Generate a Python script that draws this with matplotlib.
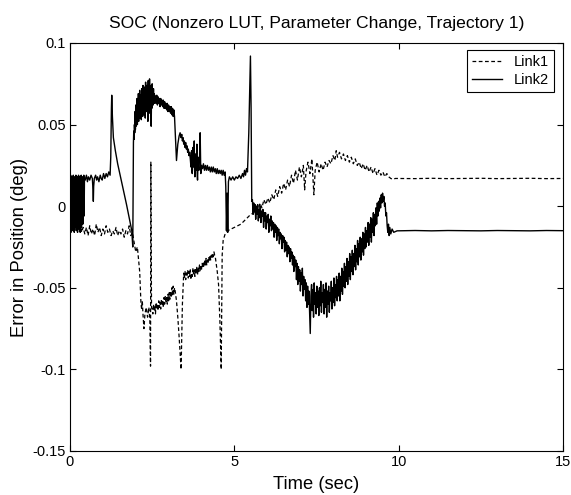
import matplotlib
matplotlib.use("Agg")
from matplotlib import pyplot as plt
from matplotlib.ticker import FormatStrFormatter

plt.rcParams["font.family"] = ["Liberation Sans", "DejaVu Sans"]
plt.rcParams["axes.unicode_minus"] = False

# ---- Link2 (solid) ----
# start-up chatter
link2_t_start = [
    0.00, 0.01, 0.02, 0.03, 0.04, 0.05, 0.06, 0.07, 0.08, 0.09,
    0.10, 0.11, 0.12, 0.13, 0.14, 0.15, 0.16, 0.17, 0.18, 0.19,
    0.20, 0.21, 0.22, 0.23, 0.24, 0.25, 0.26, 0.27, 0.28, 0.29,
    0.30, 0.31, 0.32, 0.33, 0.34, 0.35, 0.36, 0.37, 0.38, 0.39,
    0.40, 0.41, 0.42, 0.43, 0.44,
]
link2_e_start = [
    0.017, -0.012, 0.019, -0.016, 0.010, -0.014, 0.018, -0.008, 0.016, -0.015,
    0.019, -0.011, 0.014, -0.016, 0.018, -0.006, 0.017, -0.013, 0.019, -0.015,
    0.012, -0.010, 0.018, -0.016, 0.016, -0.004, 0.019, -0.014, 0.015, -0.012,
    0.018, -0.016, 0.017, -0.009, 0.019, -0.013, 0.016, -0.002, 0.018, -0.011,
    0.017, 0.004, 0.019, -0.006, 0.017,
]
# first hold and first spike
link2_t_hold = [
    0.46, 0.50, 0.53, 0.56, 0.60, 0.64, 0.68, 0.70, 0.71, 0.72, 0.74, 0.78,
    0.81, 0.84, 0.88, 0.92, 0.95, 0.98, 1.02, 1.06, 1.10, 1.14, 1.18, 1.22,
    1.24, 1.26, 1.27, 1.29, 1.32, 1.38, 1.45, 1.57, 1.72, 1.88, 1.91,
]
link2_e_hold = [
    0.016, 0.019, 0.015, 0.018, 0.016, 0.019, 0.017, 0.010, 0.003, 0.012, 0.017, 0.019,
    0.016, 0.018, 0.015, 0.019, 0.017, 0.016, 0.020, 0.017, 0.020, 0.018, 0.021, 0.019,
    0.030, 0.060, 0.068, 0.055, 0.042, 0.034, 0.026, 0.015, 0.001, -0.015, -0.025,
]
# noisy hump
link2_t_hump = [
    1.93, 1.94, 1.95, 1.96, 1.97, 1.98, 1.99, 2.00, 2.01, 2.02,
    2.03, 2.04, 2.05, 2.06, 2.07, 2.08, 2.09, 2.10, 2.11, 2.12,
    2.13, 2.14, 2.15, 2.16, 2.17, 2.18, 2.19, 2.20, 2.21, 2.22,
    2.23, 2.24, 2.25, 2.26, 2.27, 2.28, 2.29, 2.30, 2.31, 2.32,
    2.33, 2.34, 2.35, 2.36, 2.37, 2.38, 2.39, 2.40, 2.41, 2.42,
    2.43, 2.44, 2.45, 2.46, 2.47, 2.48, 2.49, 2.50, 2.51, 2.52,
    2.53, 2.54, 2.55, 2.56, 2.57, 2.58, 2.59, 2.60,
    2.62, 2.64, 2.66, 2.68, 2.70, 2.72, 2.74, 2.76, 2.78, 2.80,
    2.82, 2.84, 2.86, 2.88, 2.90, 2.92, 2.94, 2.96, 2.98, 3.00,
    3.02, 3.04, 3.06, 3.08, 3.10, 3.12, 3.14, 3.16, 3.18,
]
link2_e_hump = [
    0.039, 0.046, 0.041, 0.050, 0.045, 0.058, 0.047, 0.062, 0.049, 0.060,
    0.052, 0.066, 0.050, 0.063, 0.055, 0.069, 0.052, 0.065, 0.057, 0.071,
    0.054, 0.068, 0.058, 0.064, 0.053, 0.072, 0.060, 0.067, 0.055, 0.074,
    0.059, 0.070, 0.056, 0.073, 0.061, 0.068, 0.054, 0.076, 0.060, 0.071,
    0.058, 0.074, 0.062, 0.069, 0.052, 0.077, 0.061, 0.072, 0.057, 0.078,
    0.063, 0.070, 0.058, 0.074, 0.049, 0.066, 0.060, 0.075, 0.063, 0.070,
    0.062, 0.072, 0.064, 0.069, 0.063, 0.068, 0.064, 0.067,
    0.063, 0.068, 0.062, 0.067, 0.063, 0.066, 0.061, 0.066, 0.062, 0.065,
    0.061, 0.065, 0.060, 0.064, 0.060, 0.063, 0.059, 0.063, 0.058, 0.062,
    0.058, 0.061, 0.057, 0.061, 0.056, 0.060, 0.055, 0.059, 0.055,
]
# step down, chatter and second hold
link2_t_mid = [
    3.21, 3.24, 3.28, 3.32, 3.35, 3.38, 3.40, 3.42, 3.44, 3.46,
    3.48, 3.50, 3.52, 3.54, 3.56, 3.58, 3.60, 3.62, 3.64, 3.66,
    3.68, 3.69, 3.70, 3.71, 3.72, 3.73, 3.74, 3.75, 3.76, 3.77,
    3.78, 3.79, 3.80, 3.81, 3.82, 3.83, 3.84, 3.85, 3.86, 3.87,
    3.88, 3.89, 3.90, 3.91, 3.92, 3.93, 3.94, 3.95, 3.96, 3.97,
    3.98, 3.99, 4.00,
    4.03, 4.06, 4.09, 4.12, 4.15, 4.18, 4.21, 4.24, 4.27, 4.30,
    4.33, 4.36, 4.39, 4.42, 4.45, 4.48, 4.51, 4.54, 4.57, 4.60,
    4.63, 4.66, 4.69, 4.72,
    4.74, 4.76, 4.78, 4.80, 4.82, 4.85, 4.90, 4.95, 5.00, 5.05,
    5.10, 5.15, 5.20, 5.25, 5.28, 5.31, 5.34, 5.37, 5.40,
    5.44, 5.47, 5.49, 5.51, 5.53,
]
link2_e_mid = [
    0.042, 0.028, 0.038, 0.043, 0.045, 0.042, 0.044, 0.040, 0.042, 0.038,
    0.040, 0.036, 0.039, 0.035, 0.037, 0.033, 0.035, 0.031, 0.033, 0.029,
    0.024, 0.031, 0.034, 0.022, 0.020, 0.030, 0.036, 0.026, 0.024, 0.033,
    0.040, 0.022, 0.018, 0.027, 0.032, 0.025, 0.022, 0.030, 0.038, 0.020,
    0.016, 0.024, 0.030, 0.025, 0.022, 0.027, 0.028, 0.036, 0.045, 0.030,
    0.020, 0.024, 0.025,
    0.023, 0.026, 0.022, 0.025, 0.022, 0.025, 0.022, 0.024, 0.021, 0.024,
    0.021, 0.024, 0.021, 0.023, 0.020, 0.023, 0.020, 0.022, 0.020, 0.022,
    0.019, 0.022, 0.019, 0.021,
    0.012, -0.015, 0.008, -0.016, 0.015, 0.018, 0.016, 0.018, 0.016, 0.018,
    0.017, 0.019, 0.017, 0.020, 0.018, 0.022, 0.019, 0.023, 0.021,
    0.045, 0.072, 0.092, 0.060, 0.003,
]
# noisy sag after the spike
link2_t_sag = [
    5.55, 5.57, 5.59, 5.61, 5.63, 5.65, 5.67, 5.69, 5.71, 5.73,
    5.75, 5.77, 5.79, 5.81, 5.83, 5.85, 5.87, 5.89, 5.91, 5.93,
    5.95, 5.97, 5.99, 6.01, 6.03, 6.05, 6.07, 6.09, 6.11, 6.13,
    6.15, 6.17, 6.19, 6.21, 6.23, 6.25, 6.27, 6.29, 6.31, 6.33,
    6.35, 6.37, 6.39, 6.41, 6.43, 6.45, 6.47, 6.49, 6.51, 6.53,
    6.55, 6.57, 6.59, 6.61, 6.63, 6.65, 6.67, 6.69, 6.71, 6.73,
    6.75, 6.77, 6.79, 6.81, 6.83, 6.85, 6.87, 6.89, 6.91, 6.93,
    6.95, 6.97, 6.99, 7.01, 7.03, 7.05, 7.07, 7.09, 7.11, 7.13,
    7.15, 7.17, 7.19, 7.21, 7.23, 7.25, 7.27, 7.29, 7.31, 7.33,
    7.35, 7.37, 7.39, 7.41, 7.43, 7.45, 7.47, 7.49, 7.51, 7.53,
    7.55, 7.57, 7.59, 7.61, 7.63, 7.65, 7.67, 7.69, 7.71, 7.73,
    7.75, 7.77, 7.79, 7.81, 7.83, 7.85, 7.87, 7.89, 7.91, 7.93,
    7.95, 7.97, 7.99, 8.01, 8.03, 8.05, 8.07, 8.09, 8.11, 8.13,
    8.15, 8.17, 8.19, 8.21, 8.23, 8.25, 8.27, 8.29, 8.31, 8.33,
    8.35, 8.37, 8.39, 8.41, 8.43, 8.45, 8.47, 8.49, 8.51, 8.53,
    8.55, 8.57, 8.59, 8.61, 8.63, 8.65, 8.67, 8.69, 8.71, 8.73,
    8.75, 8.77, 8.79, 8.81, 8.83, 8.85, 8.87, 8.89, 8.91, 8.93,
    8.95, 8.97, 8.99, 9.01, 9.03, 9.05, 9.07, 9.09, 9.11, 9.13,
    9.15, 9.17, 9.19, 9.21, 9.23, 9.25, 9.27, 9.29, 9.31, 9.33,
    9.35, 9.37, 9.39, 9.41, 9.43, 9.45, 9.47, 9.49, 9.51, 9.53,
    9.55, 9.57, 9.59, 9.61, 9.63, 9.65, 9.67, 9.69,
]
link2_e_sag = [
    0.004, -0.005, 0.002, -0.003, 0.001, -0.008, 0.000, -0.005, 0.001, -0.009,
    -0.002, -0.007, 0.000, -0.010, -0.003, -0.006, -0.002, -0.013, -0.004, -0.009,
    -0.004, -0.014, -0.006, -0.010, -0.005, -0.016, -0.008, -0.012, -0.006, -0.015,
    -0.009, -0.014, -0.010, -0.019, -0.011, -0.016, -0.012, -0.021, -0.013, -0.018,
    -0.014, -0.023, -0.016, -0.020, -0.017, -0.026, -0.018, -0.022, -0.019, -0.028,
    -0.021, -0.027, -0.022, -0.031, -0.024, -0.029, -0.025, -0.034, -0.026, -0.032,
    -0.028, -0.036, -0.030, -0.040, -0.031, -0.037, -0.033, -0.045, -0.035, -0.048,
    -0.037, -0.046, -0.039, -0.052, -0.041, -0.048, -0.038, -0.055, -0.043, -0.051,
    -0.045, -0.058, -0.047, -0.062, -0.049, -0.060, -0.052, -0.066, -0.078, -0.055,
    -0.048, -0.064, -0.051, -0.068, -0.047, -0.060, -0.053, -0.066, -0.049, -0.062,
    -0.052, -0.067, -0.050, -0.061, -0.046, -0.065, -0.053, -0.059, -0.048, -0.066,
    -0.051, -0.062, -0.047, -0.068, -0.052, -0.060, -0.049, -0.065, -0.053, -0.058,
    -0.046, -0.063, -0.050, -0.059, -0.044, -0.061, -0.048, -0.056, -0.043, -0.058,
    -0.045, -0.055, -0.041, -0.058, -0.043, -0.052, -0.038, -0.054, -0.040, -0.049,
    -0.035, -0.050, -0.037, -0.046, -0.032, -0.048, -0.034, -0.043, -0.029, -0.045,
    -0.031, -0.040, -0.027, -0.042, -0.029, -0.037, -0.024, -0.039, -0.026, -0.034,
    -0.021, -0.036, -0.023, -0.031, -0.019, -0.033, -0.020, -0.028, -0.016, -0.030,
    -0.017, -0.026, -0.013, -0.025, -0.015, -0.022, -0.010, -0.024, -0.011, -0.019,
    -0.007, -0.022, -0.008, -0.016, -0.004, -0.018, -0.005, -0.012, -0.001, -0.011,
    0.002, -0.006, 0.003, -0.003, 0.005, -0.001, 0.007, 0.002, 0.008, 0.003,
    0.006, 0.000, 0.002, -0.006, -0.004, -0.012, -0.016, -0.011,
]
# settled tail
link2_t_tail = [
    9.71, 9.73, 9.76, 9.80, 9.85, 9.95, 10.5, 11.0, 11.5, 12.0, 12.5, 13.0,
    13.5, 14.0, 14.5, 15.0,
]
link2_e_tail = [
    -0.018, -0.013, -0.017, -0.014, -0.016, -0.0151, -0.0149, -0.0151, -0.0149, -0.0150,
    -0.0151, -0.0149, -0.0150, -0.0151, -0.0149, -0.0150,
]

# ---- Link1 (dashed) ----
link1_t_start = [
    0.00, 0.05, 0.10, 0.15, 0.20, 0.25, 0.30, 0.35, 0.40,
    0.45, 0.50, 0.55, 0.60, 0.65, 0.70, 0.75, 0.80, 0.85, 0.90, 0.95, 1.00,
    1.05, 1.10, 1.15, 1.20, 1.25, 1.30, 1.35, 1.40, 1.45, 1.50, 1.55, 1.60,
    1.65, 1.70, 1.75, 1.80, 1.85, 1.90, 1.95, 2.00,
    2.05, 2.12, 2.16, 2.18, 2.20, 2.22, 2.25, 2.28, 2.32, 2.36, 2.40, 2.43,
    2.45, 2.46, 2.48,
]
link1_e_start = [
    0.000, -0.010, 0.006, -0.012, 0.003, -0.014, -0.004, -0.016, -0.013,
    -0.017, -0.013, -0.018, -0.012, -0.017, -0.014, -0.018, -0.011, -0.016, -0.013, -0.018, -0.014,
    -0.017, -0.012, -0.016, -0.014, -0.018, -0.015, -0.017, -0.013, -0.018, -0.015, -0.017, -0.014,
    -0.019, -0.015, -0.017, -0.012, -0.018, -0.016, -0.022, -0.028,
    -0.025, -0.040, -0.060, -0.063, -0.058, -0.066, -0.075, -0.066, -0.062, -0.068, -0.062, -0.070,
    -0.098, 0.027, -0.062,
]
link1_t_low = [
    2.50, 2.52, 2.54, 2.56, 2.58, 2.60, 2.62, 2.64, 2.66, 2.68,
    2.70, 2.72, 2.74, 2.76, 2.78, 2.80, 2.82, 2.84, 2.86, 2.88,
    2.90, 2.92, 2.94, 2.96, 2.98, 3.00, 3.02, 3.04, 3.06, 3.08,
    3.10, 3.12, 3.14, 3.16, 3.18, 3.20,
    3.24, 3.28, 3.32, 3.38, 3.42,
    3.46, 3.48, 3.50, 3.52, 3.54, 3.56, 3.58, 3.60, 3.62, 3.64,
    3.66, 3.68, 3.70, 3.72, 3.74, 3.76, 3.78, 3.80, 3.82, 3.84,
    3.86, 3.88, 3.90, 3.92, 3.94, 3.96, 3.98, 4.00, 4.02, 4.04,
    4.06, 4.08, 4.10, 4.12, 4.14, 4.16, 4.18, 4.20, 4.22, 4.24,
    4.26, 4.28, 4.30, 4.32, 4.34, 4.36, 4.38, 4.40, 4.42, 4.44,
    4.48, 4.52, 4.56, 4.60, 4.63, 4.66, 4.72, 4.80,
    4.90, 5.00, 5.10, 5.20, 5.30, 5.40, 5.50,
]
link1_e_low = [
    -0.063, -0.066, -0.060, -0.064, -0.061, -0.066, -0.059, -0.063, -0.060, -0.064,
    -0.058, -0.062, -0.059, -0.063, -0.057, -0.061, -0.058, -0.062, -0.056, -0.060,
    -0.055, -0.059, -0.056, -0.060, -0.054, -0.058, -0.053, -0.057, -0.052, -0.056,
    -0.050, -0.055, -0.049, -0.054, -0.050, -0.052,
    -0.058, -0.068, -0.080, -0.100, -0.060,
    -0.041, -0.044, -0.040, -0.045, -0.041, -0.043, -0.039, -0.044, -0.040, -0.043,
    -0.039, -0.045, -0.041, -0.043, -0.038, -0.042, -0.039, -0.043, -0.038, -0.041,
    -0.037, -0.042, -0.038, -0.040, -0.036, -0.040, -0.037, -0.039, -0.035, -0.038,
    -0.034, -0.037, -0.033, -0.036, -0.032, -0.036, -0.033, -0.035, -0.031, -0.034,
    -0.030, -0.033, -0.030, -0.032, -0.029, -0.031, -0.028, -0.030, -0.031, -0.034,
    -0.040, -0.048, -0.070, -0.100, -0.030, -0.021, -0.017, -0.015,
    -0.014, -0.013, -0.012, -0.011, -0.009, -0.007, -0.005,
]
link1_t_rise = [
    5.60, 5.66, 5.72, 5.78, 5.84, 5.90, 5.96, 6.02, 6.08, 6.14, 6.20, 6.26,
    6.32, 6.38, 6.44, 6.50, 6.56, 6.62, 6.68, 6.74, 6.80, 6.86, 6.92, 6.98,
    7.04, 7.10, 7.14, 7.18, 7.24, 7.30, 7.36, 7.42, 7.46, 7.52, 7.58, 7.64,
    7.70, 7.76, 7.82, 7.88, 7.94, 8.00, 8.06, 8.10, 8.14, 8.20, 8.26, 8.32,
    8.38, 8.44, 8.50, 8.56, 8.62, 8.68, 8.74, 8.80, 8.86, 8.92, 8.98, 9.04,
    9.10, 9.16, 9.22, 9.28, 9.34, 9.40, 9.46, 9.52, 9.58, 9.64, 9.70, 9.76,
    9.82, 9.90,
    10.5, 11.0, 11.5, 12.0, 12.5, 13.0, 13.5, 14.0, 14.5, 15.0,
]
link1_e_rise = [
    -0.004, 0.000, -0.003, 0.002, -0.001, 0.004, 0.001, 0.005, 0.002, 0.007, 0.004, 0.010,
    0.006, 0.012, 0.008, 0.014, 0.010, 0.016, 0.012, 0.019, 0.014, 0.022, 0.016, 0.024,
    0.018, 0.025, 0.010, 0.021, 0.027, 0.020, 0.029, 0.007, 0.022, 0.027, 0.021, 0.026,
    0.022, 0.027, 0.024, 0.028, 0.026, 0.031, 0.028, 0.034, 0.030, 0.033, 0.029, 0.032,
    0.028, 0.031, 0.027, 0.030, 0.026, 0.029, 0.025, 0.027, 0.023, 0.026, 0.022, 0.025,
    0.021, 0.024, 0.020, 0.023, 0.019, 0.022, 0.019, 0.021, 0.018, 0.020, 0.018, 0.017,
    0.0165, 0.0170,
    0.0169, 0.0171, 0.0169, 0.0170, 0.0171, 0.0169, 0.0170, 0.0171, 0.0169, 0.0170,
]

x_ticks = [0, 5, 10, 15]
y_ticks = [-0.15, -0.1, -0.05, 0, 0.05, 0.1]

link1_t = link1_t_start + link1_t_low + link1_t_rise
link1_err = link1_e_start + link1_e_low + link1_e_rise
link2_t = link2_t_start + link2_t_hold + link2_t_hump + link2_t_mid + link2_t_sag + link2_t_tail
link2_err = link2_e_start + link2_e_hold + link2_e_hump + link2_e_mid + link2_e_sag + link2_e_tail

fig = plt.figure(figsize=(5.71, 4.95), dpi=100)
ax = fig.add_axes([70 / 571, 44 / 495, 493 / 571, 408 / 495])

ax.plot(link1_t, link1_err, color="black", linestyle=(0, (3, 2)), linewidth=0.9, label="Link1")
ax.plot(link2_t, link2_err, color="black", linestyle="-", linewidth=1.0, label="Link2")

ax.set_xlim(0, 15)
ax.set_ylim(-0.15, 0.1)
ax.set_xticks(x_ticks)
ax.set_yticks(y_ticks)
ax.yaxis.set_major_formatter(FormatStrFormatter("%g"))
ax.tick_params(direction="in", length=4, width=0.8, top=True, right=True,
               labelsize=10.5, pad=3)
for spine in ax.spines.values():
    spine.set_linewidth(0.8)

ax.set_title("SOC (Nonzero LUT, Parameter Change, Trajectory 1)", fontsize=12.6, pad=11)
ax.set_xlabel("Time (sec)", fontsize=13.2, labelpad=5)
ax.set_ylabel("Error in Position (deg)", fontsize=13.2, labelpad=3)

leg = ax.legend(loc="upper right", bbox_to_anchor=(0.982, 0.983), borderaxespad=0,
                fancybox=False, edgecolor="black", framealpha=1, fontsize=10.5,
                handlelength=2.1, labelspacing=0.25, borderpad=0.35, handletextpad=0.8)
leg.get_frame().set_linewidth(0.8)

fig.savefig("out.png", dpi=100)
